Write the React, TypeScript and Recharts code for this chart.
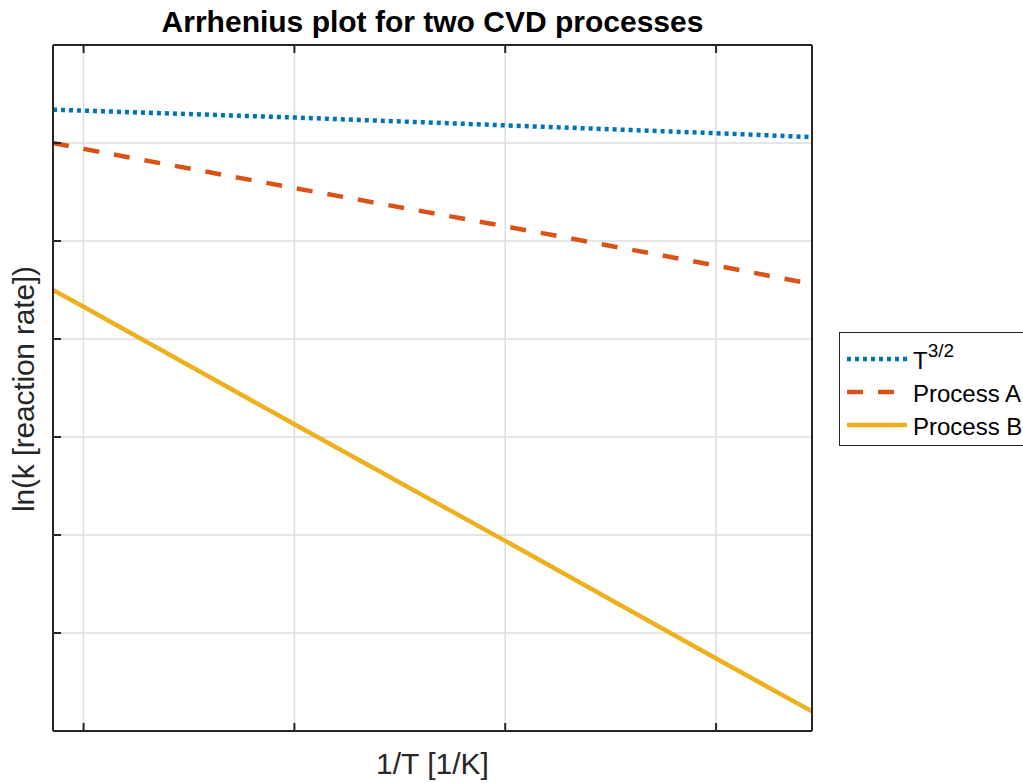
import { LineChart, Line, XAxis, YAxis, CartesianGrid } from "recharts";

// 1/T in 1/K, from 1000 °C (1273 K) down to 600 °C (873 K)
const invT = [0.0007855, 0.0008, 0.0009, 0.001, 0.0011, 0.0011455];
const t32 = [6.34, 6.33, 6.26, 6.18, 6.1, 6.06];
const processA = [6.0, 5.94, 5.54, 5.15, 4.75, 4.56];
const processB = [4.5, 4.33, 3.13, 1.94, 0.74, 0.2];

const xTicks = [0.0008, 0.0009, 0.001, 0.0011];
const yTicks = [0, 1, 2, 3, 4, 5, 6, 7];

const data = invT.map((x, i) => ({
  x,
  t32: t32[i],
  a: processA[i],
  b: processB[i],
}));

const series = [
  { key: "t32", name: "T", sup: "3/2", color: "#0072BD", dash: "4 4" },
  { key: "a", name: "Process A", sup: "", color: "#D95319", dash: "16 15" },
  { key: "b", name: "Process B", sup: "", color: "#EDB120", dash: undefined },
];

const FONT = '"Liberation Sans", Arial, Helvetica, sans-serif';
const AX = "#262626";
const xDomain = [0.0007855, 0.0011455];

// no tick labels, only the short inward tick marks
const NoLabel = () => <g />;

const axisProps = {
  mirror: true,
  tick: NoLabel,
  tickSize: 8,
  interval: 0 as const,
  axisLine: { stroke: AX, strokeWidth: 2 },
  tickLine: { stroke: AX, strokeWidth: 2 },
};

const App = () => {
  return (
    <div
      style={{
        position: "absolute",
        left: 0,
        top: 0,
        width: 1023,
        height: 783,
        overflow: "hidden",
        background: "#fff",
        fontFamily: FONT,
      }}
    >
      <LineChart
        width={1023}
        height={783}
        data={data}
        margin={{ top: 45, right: 211, bottom: 52, left: 53 }}
      >
        <CartesianGrid stroke="#dcdcdc" strokeWidth={1.5} />
        <XAxis
          dataKey="x"
          type="number"
          domain={xDomain}
          ticks={xTicks}
          height={30}
          {...axisProps}
        />
        <XAxis
          xAxisId="top"
          dataKey="x"
          orientation="top"
          type="number"
          domain={xDomain}
          ticks={xTicks}
          height={30}
          {...axisProps}
        />
        <YAxis
          type="number"
          domain={[0, 7]}
          ticks={yTicks}
          width={30}
          {...axisProps}
        />
        <YAxis
          yAxisId="right"
          orientation="right"
          type="number"
          domain={[0, 7]}
          ticks={yTicks}
          width={30}
          {...axisProps}
        />
        {series.map((s) => (
          <Line
            key={s.key}
            dataKey={s.key}
            stroke={s.color}
            strokeWidth={4.5}
            strokeDasharray={s.dash}
            dot={false}
            activeDot={false}
            isAnimationActive={false}
            type="linear"
          />
        ))}
      </LineChart>

      <svg
        width={1023}
        height={783}
        style={{ position: "absolute", left: 0, top: 0, pointerEvents: "none" }}
        fontFamily={FONT}
      >
        <text x={432.5} y={32} textAnchor="middle" fontSize={30} fontWeight="bold" fill="#000">
          Arrhenius plot for two CVD processes
        </text>
        <text x={432.5} y={774} textAnchor="middle" fontSize={30} fill={AX}>
          1/T [1/K]
        </text>
        <text
          x={0}
          y={0}
          transform="translate(34,389) rotate(-90)"
          textAnchor="middle"
          fontSize={30}
          textLength={246}
          lengthAdjust="spacing"
          fill={AX}
        >
          ln(k [reaction rate])
        </text>

        <rect x={839.5} y={332.5} width={200} height={113} fill="#fff" stroke={AX} strokeWidth={1} />
        {series.map((s, i) => {
          const ly = 359 + i * 33;
          return (
            <g key={s.key}>
              <line
                x1={847}
                x2={907}
                y1={ly}
                y2={ly}
                stroke={s.color}
                strokeWidth={4.5}
                strokeDasharray={s.dash}
              />
              <text x={913} y={ly + 10} fontSize={24} fill="#000">
                {s.name}
                {s.sup && (
                  <tspan fontSize={19} dy={-12}>
                    {s.sup}
                  </tspan>
                )}
              </text>
            </g>
          );
        })}
      </svg>
    </div>
  );
};

export default App;
